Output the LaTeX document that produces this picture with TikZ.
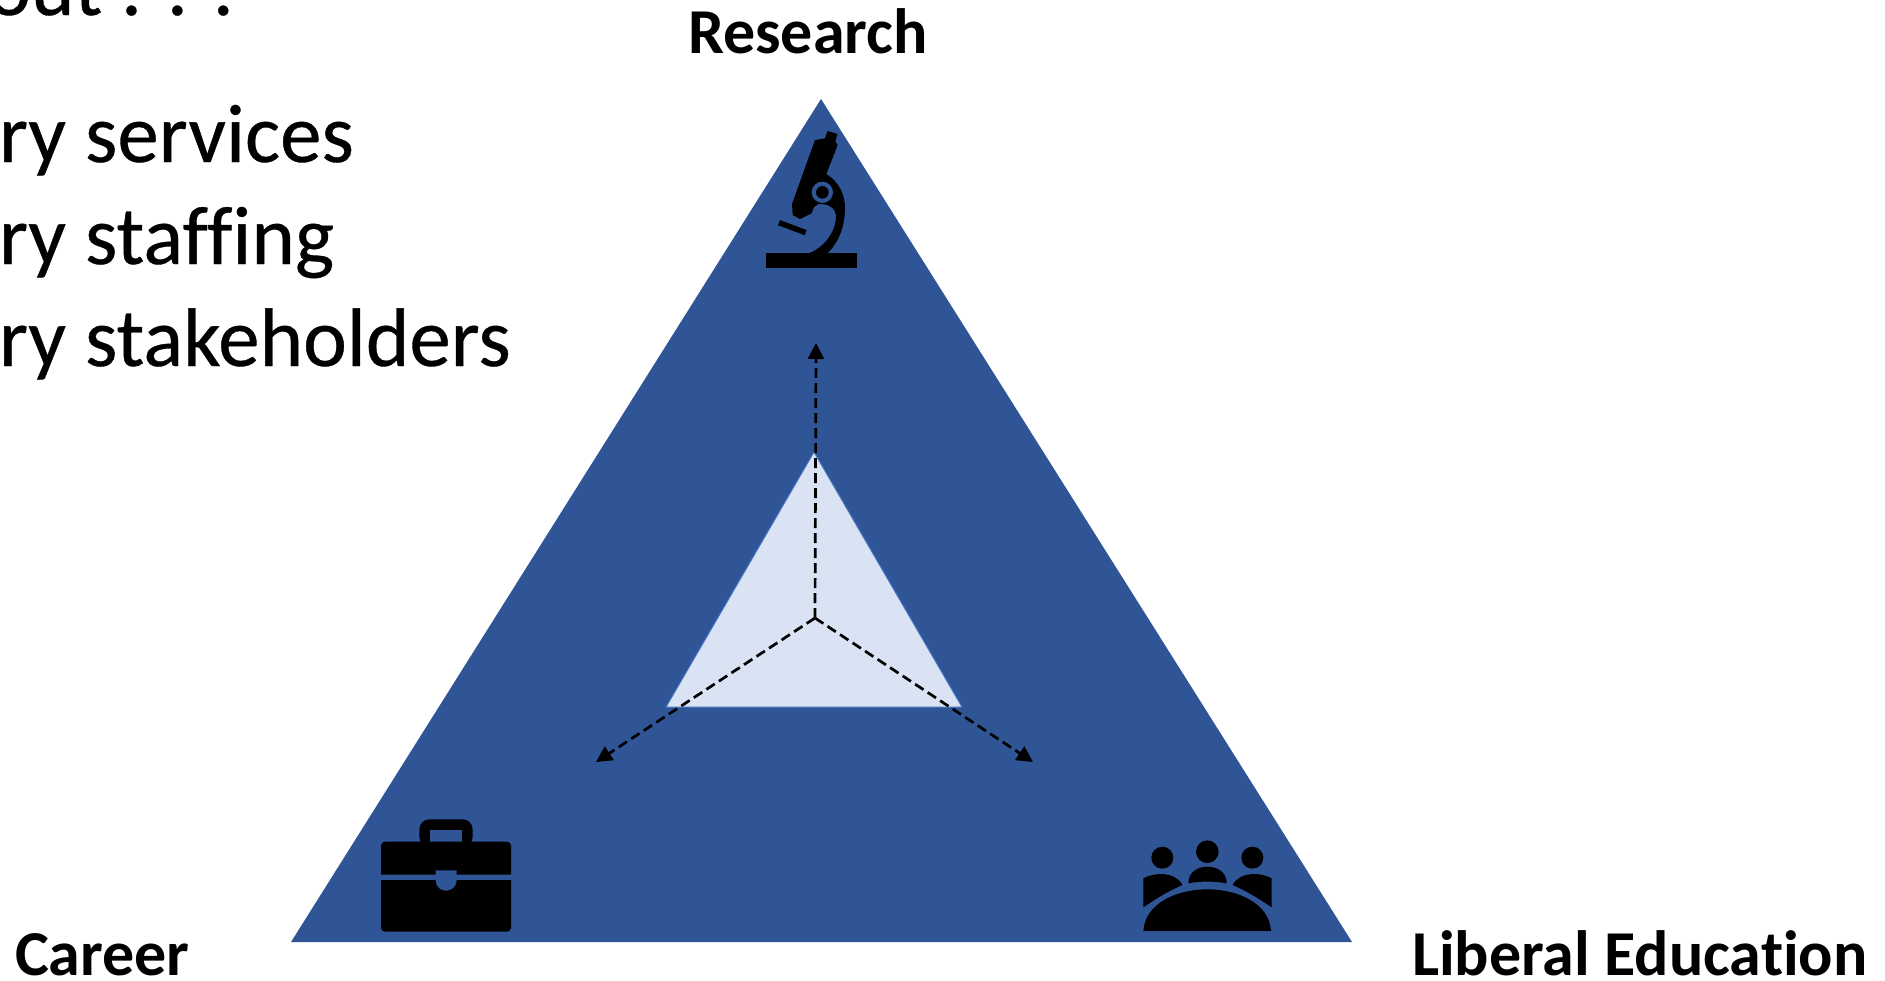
\documentclass[tikz,border=0pt]{standalone}
\usepackage{fontspec}
\setmainfont{Carlito}[Ligatures=NoCommon]
\newfontfamily\bodyfont{Carlito}[Ligatures=NoCommon,FakeBold=0.4]
\usetikzlibrary{arrows.meta}
\definecolor{mainblue}{HTML}{2F5597}
\definecolor{paleblue}{HTML}{DAE3F3}
\definecolor{edgeblue}{HTML}{4472C4}
\tikzset{
  bodytext/.style={font=\bodyfont\fontsize{83}{95}\selectfont,anchor=base west,inner sep=0pt,outer sep=0pt},
  cornerlabel/.style={font=\fontsize{64}{72}\selectfont\bfseries,anchor=base west,inner sep=0pt,outer sep=0pt},
  axisarrow/.style={draw=black,line width=2.7pt,dash pattern=on 10pt off 5pt,-{Triangle[length=16pt,width=16pt]}}
}
\begin{document}
\begin{tikzpicture}[x=1pt,y=-1pt]
\useasboundingbox (0,0) rectangle (1885,980);
% left text, cropped by the page
\node[bodytext,anchor=base east] (t0) at (234,15) {out . . .};
\node[bodytext] (t1) at (85,162) {services};
\node[bodytext,anchor=base east] (r1) at (66,162) {ry};
\node[bodytext] (t2) at (85,264) {staffing};
\node[bodytext,anchor=base east] (r2) at (66,264) {ry};
\node[bodytext] (t3) at (85,366) {stakeholders};
\node[bodytext,anchor=base east] (r3) at (66,366) {ry};
% triangles
\fill[mainblue] (821,99) -- (1352,942) -- (291,942) -- cycle;
\draw[edgeblue,fill=paleblue,line width=1pt] (814,452) -- (962,707) -- (666,707) -- cycle;
% axes
\coordinate (c) at (815,618);
\coordinate (up) at (816,343);
\coordinate (dl) at (596,762);
\coordinate (dr) at (1033,762);
\draw[axisarrow] (c) -- (up);
\draw[axisarrow] (c) -- (dl);
\draw[axisarrow] (c) -- (dr);
% microscope
\begin{scope}[shift={(700,0)},x=0.33333pt,y=-0.33333pt]
\fill[black] (197,760) rectangle (472,803);
\fill[black] (383,393) -- (412,402) -- (406,425) -- (413,435) -- (378,525) -- (335,640) -- (300,657) -- (278,645) -- (276,612) -- (345,420) -- (375,415) -- cycle;
\fill[black] (375,520) .. controls (420,545) and (437,590) .. (435,630) .. controls (433,690) and (410,735) .. (380,762) -- (320,762) .. controls (375,745) and (410,690) .. (408,645) .. controls (406,625) and (385,610) .. (355,612) -- (330,630) -- cycle;
\fill[mainblue] (367,577) circle[radius=32];
\fill[black] (367,577) circle[radius=19];
\draw[black,line width=5.5pt] (237,668) -- (317,698);
\end{scope}
% briefcase
\begin{scope}[shift={(280,780)},x=0.33333pt,y=-0.33333pt]
\fill[black,rounded corners=10pt] (418,200) -- (418,118) -- (578,118) -- (578,200) -- cycle;
\fill[mainblue] (450,150) rectangle (547,190);
\fill[black] (303,284) [rounded corners=4pt] -- (303,185) -- (693,185) -- (693,230) [sharp corners] -- (693,284) -- cycle;
\fill[black] (303,300) [rounded corners=4pt] -- (303,455) -- (693,455) -- (693,400) [sharp corners] -- (693,300) -- cycle;
\fill[mainblue] (467,271) -- (530,271) -- (530,301) .. controls (530,322) and (512,332) .. (498,332) .. controls (484,332) and (467,322) .. (467,301) -- cycle;
\end{scope}
% meeting
\begin{scope}[shift={(1100,800)},x=0.33333pt,y=-0.33333pt]
\fill[black] (187,173) circle[radius=33];
\fill[black] (322,155) circle[radius=34];
\fill[black] (457,173) circle[radius=33];
\fill[black] (265,250) .. controls (265,215) and (295,200) .. (322,200) .. controls (350,200) and (380,215) .. (380,250) .. controls (345,243) and (300,243) .. (265,250) -- cycle;
\fill[black] (130,322) -- (130,235) .. controls (160,218) and (225,212) .. (247,255) .. controls (200,275) and (155,305) .. (130,322) -- cycle;
\fill[black] (515,322) -- (515,235) .. controls (485,218) and (420,212) .. (398,255) .. controls (445,275) and (490,305) .. (515,322) -- cycle;
\fill[black] (130,393) .. controls (135,310) and (230,268) .. (322,268) .. controls (414,268) and (508,310) .. (513,393) -- cycle;
\end{scope}
% corner labels
\node[cornerlabel] (research) at (688,53) {Research};
\node[cornerlabel] (career) at (15,975) {Career};
\node[cornerlabel] (liberal) at (1412,975) {Liberal Education};
\end{tikzpicture}
\end{document}
